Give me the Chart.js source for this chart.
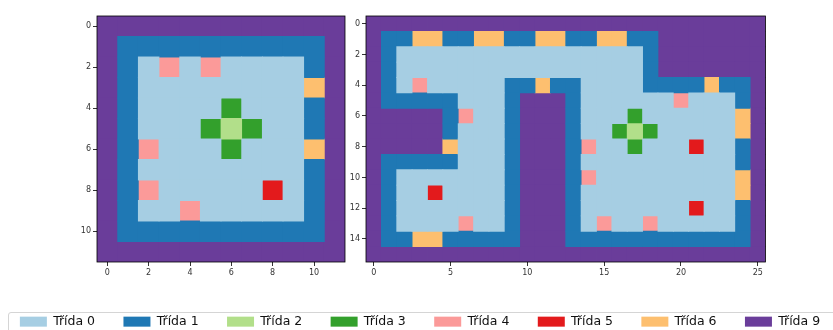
<!DOCTYPE html>
<html>
<head>
<meta charset="utf-8">
<script src="https://cdn.jsdelivr.net/npm/chart.js@4.4.1/dist/chart.umd.min.js"></script>
<style>
  html, body { margin: 0; padding: 0; background: #fff; width: 833px; height: 330px; overflow: hidden; position: relative; }
  canvas { position: absolute; }
  #legendFrame { position: absolute; left: 8px; top: 312px; width: 900px; height: 60px; border: 1px solid #d5d5d5; border-radius: 3px; }
</style>
</head>
<body>
<div id="legendFrame"></div>
<canvas id="leftMap" width="352" height="285" style="left:0px;top:0px"></canvas>
<canvas id="rightMap" width="445" height="285" style="left:330px;top:0px"></canvas>
<canvas id="legendCanvas" width="900" height="160" style="left:-29.6px;top:287px"></canvas>
<script>
// classes shown in the legend
var classIds = [0, 1, 2, 3, 4, 5, 6, 9];
var classLabels = ['Třída 0', 'Třída 1', 'Třída 2', 'Třída 3', 'Třída 4', 'Třída 5', 'Třída 6', 'Třída 9'];
var classColors = ['#a6cee3', '#1f78b4', '#b2df8a', '#33a02c', '#fb9a99', '#e31a1c', '#fdbf6f', '#6a3d9a'];

// left map, one string per row, one digit per cell
var leftRows = [
  "999999999999",
  "911111111119",
  "910404000019",
  "910000000069",
  "910000300019",
  "910003230019",
  "914000300069",
  "910000000019",
  "914000005019",
  "910040000019",
  "911111111119",
  "999999999999"
];
var leftXTicks = [0, 2, 4, 6, 8, 10];
var leftYTicks = [0, 2, 4, 6, 8, 10];

// right map
var rightRows = [
  "99999999999999999999999999",
  "91166116611661166119999999",
  "91000000000000000019999999",
  "91000000000000000019999999",
  "91040000011611000011116119",
  "91111100019991000000400019",
  "99999140019991000300000069",
  "99999100019991003230000069",
  "99999600019991400300050019",
  "91111100019991000000000019",
  "91000000019991400000000069",
  "91005000019991000000000069",
  "91000000019991000000050019",
  "91000040019991040040000019",
  "91166111119991111111111119",
  "99999999999999999999999999"
];
var rightXTicks = [0, 5, 10, 15, 20, 25];
var rightYTicks = [0, 2, 4, 6, 8, 10, 12, 14];

var tickFont = { family: 'DejaVu Sans', size: 8 };

function cellPoints(rows, cls) {
  var pts = [];
  rows.forEach(function (r, y) {
    for (var x = 0; x < r.length; x++) {
      if (+r[x] === cls) pts.push({ x: x, y: y });
    }
  });
  return pts;
}

// square size follows the x scale, so every cell fills its slot
function cellRadius(ctx) {
  var s = ctx.chart.scales.x;
  var px = Math.abs(s.getPixelForValue(1) - s.getPixelForValue(0));
  return (px / 2 + 0.4) / Math.SQRT1_2;
}

var framePlugin = {
  id: 'frame',
  afterDatasetsDraw: function (chart) {
    var a = chart.chartArea, c = chart.ctx;
    c.save();
    c.strokeStyle = '#000';
    c.lineWidth = 0.8;
    c.strokeRect(a.left, a.top, a.right - a.left, a.bottom - a.top);
    c.restore();
  }
};

function axis(min, max, tickValues, reverse, fit) {
  return {
    type: 'linear',
    min: min,
    max: max,
    reverse: reverse,
    afterBuildTicks: function (s) { s.ticks = tickValues.map(function (v) { return { value: v }; }); },
    afterFit: fit,
    grid: { drawOnChartArea: false, drawTicks: true, tickLength: 4, tickColor: '#333' },
    border: { display: false },
    ticks: { font: tickFont, color: '#333', padding: 2, maxRotation: 0, autoSkip: false }
  };
}

function drawMap(id, rows, xTicks, yTicks, yWidth, padRight) {
  var datasets = classIds.map(function (cls, i) {
    return {
      label: classLabels[i],
      data: cellPoints(rows, cls),
      backgroundColor: classColors[i],
      borderWidth: 0,
      pointStyle: 'rect',
      pointRadius: cellRadius,
      pointHoverRadius: cellRadius
    };
  });
  return new Chart(document.getElementById(id), {
    type: 'scatter',
    data: { datasets: datasets },
    options: {
      responsive: false,
      animation: false,
      events: [],
      layout: { padding: { top: 16, right: padRight, bottom: 0, left: 0 } },
      scales: {
        x: axis(-0.5, rows[0].length - 0.5, xTicks, false, function (s) { s.height = 23; }),
        y: axis(-0.5, rows.length - 0.5, yTicks, true, function (s) { s.width = yWidth; })
      },
      plugins: { legend: { display: false }, tooltip: { enabled: false } }
    },
    plugins: [framePlugin]
  });
}

drawMap('leftMap', leftRows, leftXTicks, leftYTicks, 97, 7);
drawMap('rightMap', rightRows, rightXTicks, rightYTicks, 36, 9.5);

// shared legend along the bottom
new Chart(document.getElementById('legendCanvas'), {
  type: 'bar',
  data: {
    labels: [],
    datasets: classLabels.map(function (l, i) {
      return { label: l, data: [], backgroundColor: classColors[i], borderWidth: 0 };
    })
  },
  options: {
    responsive: false,
    animation: false,
    events: [],
    layout: { padding: 0 },
    scales: { x: { display: false }, y: { display: false } },
    plugins: {
      legend: {
        position: 'top',
        align: 'center',
        labels: { boxWidth: 27, boxHeight: 10, padding: 28.4, color: '#111', font: { family: 'DejaVu Sans', size: 12.5 } }
      },
      tooltip: { enabled: false }
    }
  }
});
</script>
</body>
</html>
